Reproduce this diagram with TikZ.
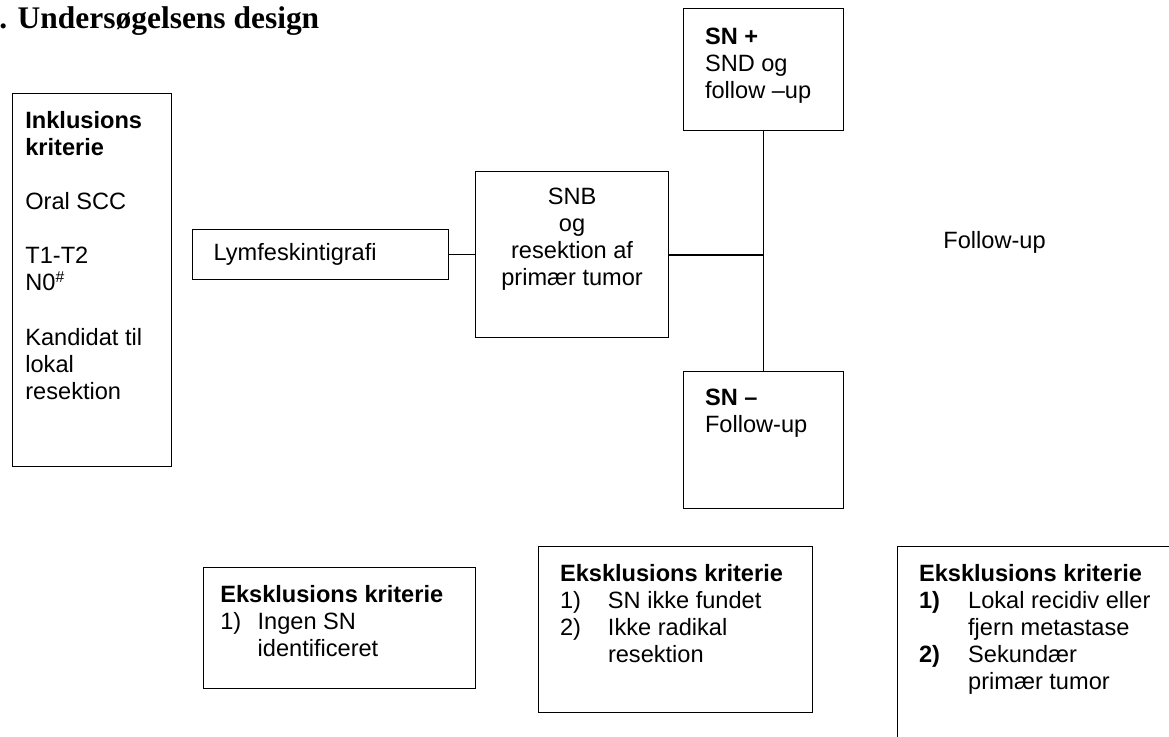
\documentclass[tikz,border=0pt]{standalone}
\usepackage{fontspec}
\setmainfont{Liberation Sans}
\newfontfamily\titlefont{Liberation Serif}
\usetikzlibrary{positioning}
\newcommand{\px}{0.5086pt}
\newcommand{\listno}[2][19pt]{\makebox[#1][l]{#2}}

\begin{document}
\begin{tikzpicture}[
	x=0.5086pt, y=-0.5086pt,
	every node/.style={font=\fontsize{12}{13.8}\selectfont},
	box/.style={draw, line width=0.6pt, rectangle, anchor=north west, inner sep=0pt},
	txt/.style={anchor=north west, inner sep=0pt, align=left},
	link/.style={line width=0.6pt},
	trunk/.style={line width=1.1pt}
]
\useasboundingbox (0,0) rectangle (1169,736);
\node[anchor=base west, inner sep=0pt, font=\titlefont\fontsize{16}{18}\selectfont\bfseries] (title) at (-1,28) {. Undersøgelsens design};

\node[box, minimum width=159*\px, minimum height=373*\px] (incl) at (12,93) {};
\node[txt, below right=9pt and 6.6pt of incl.north west] (inclT) {\textbf{Inklusions}\\\textbf{kriterie}\\[13.8pt]Oral SCC\\[13.8pt]T1-T2\\N0\textsuperscript{\#}\\[13.8pt]Kandidat til\\lokal\\resektion};

\node[box, minimum width=256*\px, minimum height=50*\px, text width=108.8pt, inner xsep=10.7pt, align=left] (lymf) at (192,229) {Lymfeskintigrafi};

\node[box, minimum width=193*\px, minimum height=166*\px] (snb) at (475,171) {};
\node[txt, align=center, below=8.5pt of snb.north] (snbT) {SNB\\og\\resektion af\\primær tumor};

\node[box, minimum width=160*\px, minimum height=122*\px] (snp) at (683,8) {};
\node[txt, below right=10pt and 11pt of snp.north west] (snpT) {\textbf{SN +}\\SND og\\follow –up};

\node[box, minimum width=160*\px, minimum height=137*\px] (snm) at (683,371) {};
\node[txt, below right=9pt and 11pt of snm.north west] (snmT) {\textbf{SN –}\\Follow-up};

\node[anchor=west, inner sep=0pt] (fu) at (943,242) {Follow-up};

\node[box, minimum width=272*\px, minimum height=121*\px] (eks1) at (203,567) {};
\node[txt, below right=9pt and 8.6pt of eks1.north west] (eks1T) {\textbf{Eksklusions kriterie}\\\listno{1)}Ingen SN\\\listno{}identificeret};

\node[box, minimum width=274*\px, minimum height=166*\px] (eks2) at (538,546) {};
\node[txt, below right=9pt and 11pt of eks2.north west] (eks2T) {\textbf{Eksklusions kriterie}\\\listno[24.4pt]{1)}SN ikke fundet\\\listno[24.4pt]{2)}Ikke radikal\\\listno[24.4pt]{}resektion};

\node[box, minimum width=290*\px, minimum height=200*\px] (eks3) at (897,546) {};
\node[txt, below right=9pt and 11pt of eks3.north west] (eks3T) {\textbf{Eksklusions kriterie}\\\listno[25pt]{\textbf{1)}}Lokal recidiv eller\\\listno[25pt]{}fjern metastase\\\listno[25pt]{\textbf{2)}}Sekundær\\\listno[25pt]{}primær tumor};

\draw[link] (lymf.east) -- (snb.west);
\draw[trunk] (snb.east) -- (snb.east -| snp.south);
\draw[link] (snp.south) -- (snm.north);
\end{tikzpicture}
\end{document}
